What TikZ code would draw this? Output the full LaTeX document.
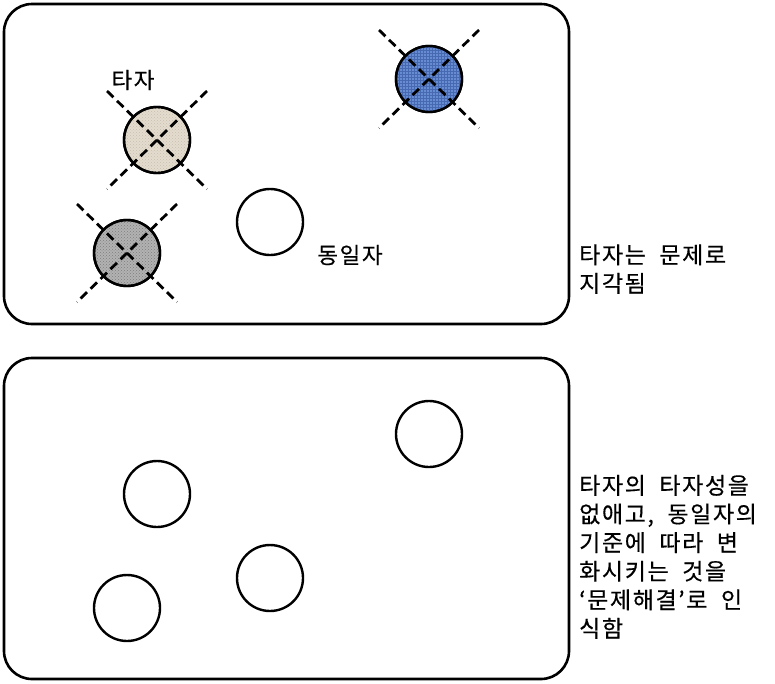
\documentclass[tikz,border=0pt]{standalone}
\usepackage{fontspec}
\newfontfamily\kr[FakeBold=0.4, LetterSpace=7, WordSpace=2]{Noto Sans CJK KR}
\usetikzlibrary{patterns}
\definecolor{beige}{RGB}{228,220,206}
\definecolor{beigedk}{RGB}{200,190,172}
\definecolor{grayfill}{RGB}{178,178,178}
\definecolor{graydk}{RGB}{125,125,125}
\definecolor{bluefill}{RGB}{104,140,210}
\definecolor{bluedk}{RGB}{70,105,178}
\tikzset{
  frame/.style={draw=black, line width=2.6pt, rounded corners=28pt},
  ball/.style={circle, draw=black, line width=2.4pt, minimum size=66pt, inner sep=0pt},
  cross/.style={black, line width=2.8pt, dash pattern=on 9pt off 5pt},
  lbl/.style={font=\kr\fontsize{22.5}{28}\selectfont, inner sep=0pt},
  side/.style={font=\kr\fontsize{23}{28.6}\selectfont, inner sep=0pt, align=left, anchor=base west}
}
\begin{document}
\begin{tikzpicture}[x=1pt,y=-1pt]
\useasboundingbox (0,0) rectangle (775,683);
% boxes
\draw[frame] (4,4) rectangle (569,324);
\draw[frame] (4,358) rectangle (569,679);
% top box balls
\node[ball, fill=beige] (b1) at (157,140) {};
\fill[pattern=crosshatch dots, pattern color=beigedk] (b1) circle (32pt);
\node[ball] at (157,140) {};
\node[ball, fill=grayfill] (b2) at (127,253) {};
\fill[pattern=crosshatch dots, pattern color=graydk] (b2) circle (32pt);
\node[ball] at (127,253) {};
\node[ball, fill=bluefill] (b3) at (429,79) {};
\fill[pattern=grid, pattern color=bluedk] (b3) circle (32pt);
\node[ball] at (429,79) {};
\node[ball, fill=white] (b4) at (270,222) {};
% crosses
\foreach \n/\cx/\cy in {b1/157/140, b2/127/253, b3/429/79}{
  \coordinate (\n a) at (\cx-50,\cy-49);
  \coordinate (\n b) at (\cx+50,\cy+49);
  \coordinate (\n c) at (\cx+50,\cy-49);
  \coordinate (\n d) at (\cx-50,\cy+49);
  \draw[cross] (\n a) -- (\n b);
  \draw[cross] (\n c) -- (\n d);
}
% labels
\node[lbl] (l1) at (133,80) {타자};
\node[lbl] (l2) at (350,255) {동일자};
\node[side] (t1) at (579,292) {타자는 문제로\\지각됨};
% bottom box balls
\node[ball] (c1) at (429,434) {};
\node[ball] (c2) at (157,494) {};
\node[ball] (c3) at (270,578) {};
\node[ball] (c4) at (127,608) {};
\node[side] (t2) at (579,637) {타자의 타자성을\\없애고, 동일자의\\기준에 따라 변\\화시키는 것을\\‘문제해결’로 인\\식함};
\end{tikzpicture}
\end{document}
